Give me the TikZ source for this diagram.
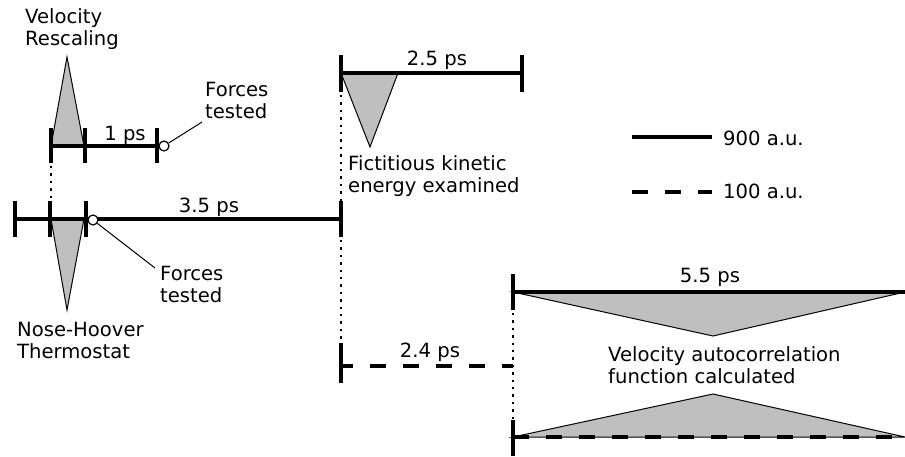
\documentclass[tikz,border=0pt]{standalone}
\usepackage{fontspec}
\setmainfont{DejaVu Sans}
\usetikzlibrary{calc}

\begin{document}
\begin{tikzpicture}[x=1pt, y=-1pt,
    every node/.style={font=\fontsize{19.6}{22}\selectfont, inner sep=0pt},
    tline/.style={line width=3.6pt},
    dline/.style={line width=3.6pt, dash pattern=on 16pt off 17pt},
    tick/.style={line width=3.4pt},
    dots/.style={line width=2.6pt, dash pattern=on 2.4pt off 5pt},
    wedge/.style={fill=gray!50, draw=black, line width=1pt},
    lbl/.style={align=left, anchor=north west},
    probe/.style={circle, draw, line width=1.2pt, minimum size=10pt, fill=white}]
    \useasboundingbox (0,0) rectangle (905,456);
    % velocity rescaling run
    \coordinate (A1) at (51,146);
    \coordinate (A2) at (85,146);
    \coordinate (A3) at (157,146);
    \coordinate (Atop) at (67,57);
    % main run
    \coordinate (B0) at (15,219);
    \coordinate (B1) at (51,219);
    \coordinate (B2) at (85,219);
    \coordinate (B3) at (341,219);
    \coordinate (Bbot) at (67,310);
    % 2.5 ps run
    \coordinate (C1) at (341,73);
    \coordinate (C2) at (522,73);
    \coordinate (Cbot) at (370,147);
    \coordinate (Cend) at (398,73);
    % 2.4 ps run
    \coordinate (D1) at (341,366);
    \coordinate (D2) at (513,366);
    % 5.5 ps runs
    \coordinate (E1) at (513,292);
    \coordinate (E2) at (905,292);
    \coordinate (Emid) at (713,336);
    \coordinate (F1) at (513,437);
    \coordinate (F2) at (905,437);
    \coordinate (Fmid) at (713,394);
    % legend
    \coordinate (L1) at (632,137);
    \coordinate (L2) at (712,137);
    \coordinate (L3) at (632,192);
    \coordinate (L4) at (712,192);

    \filldraw[wedge] (A1) -- (Atop) -- (84,146) -- cycle;
    \filldraw[wedge] (B1) -- (Bbot) -- (84,219) -- cycle;
    \filldraw[wedge] (C1) -- (Cbot) -- (Cend) -- cycle;
    \filldraw[wedge] (E1) -- (Emid) -- (E2) -- cycle;
    \filldraw[wedge] (F1) -- (Fmid) -- (F2) -- cycle;

    \draw[dots] (51,166) -- (51,201);
    \draw[dots] (341,95) -- (341,201);
    \draw[dots] (341,240) -- (341,342);
    \draw[dots] (513,313) -- (513,420);

    \draw[tline] (A1) -- (A3);
    \draw[tline] (B0) -- (B3);
    \draw[tline] (C1) -- (C2);
    \draw[tline] (E1) -- (E2);
    \draw[dline, dash phase=4pt] (D1) -- (D2);
    \draw[dline] (F1) -- (F2);

    \foreach \x in {51,85,157} \draw[tick] (\x,128) -- (\x,163);
    \foreach \x in {15,50,86,341} \draw[tick] (\x,201) -- (\x,237);
    \foreach \x in {341,522} \draw[tick] (\x,55) -- (\x,92);
    \draw[tick] (341,343) -- (341,383);
    \draw[tick] (513,274) -- (513,310);
    \draw[tick] (513,420) -- (513,456);

    \node[probe] (pA) at (164,146) {};
    \node[probe] (pB) at (93,220) {};
    \coordinate (qA) at (202,122);
    \coordinate (qB) at (155,268);
    \draw[line width=1pt] (pA) -- (qA);
    \draw[line width=1pt] (pB) -- (qB);

    \node[lbl] (vr) at (25,8) {Velocity\\Rescaling};
    \node[lbl] (ftA) at (205,82) {Forces\\tested};
    \node[lbl] (ftB) at (160,266) {Forces\\tested};
    \node[lbl] (nh) at (17,322) {Nose-Hoover\\Thermostat};
    \node[lbl] (fk) at (348,155) {Fictitious kinetic\\energy examined};
    \node[lbl] (vac) at (608,346) {Velocity autocorrelation\\function calculated};
    \node[anchor=base] (t1) at (125,140) {1 ps};
    \node[anchor=base] (t35) at (209,212) {3.5 ps};
    \node[anchor=base] (t25) at (437,65) {2.5 ps};
    \node[anchor=base] (t24) at (430,357) {2.4 ps};
    \node[anchor=base] (t55) at (710,282) {5.5 ps};

    \draw[tline] (L1) -- (L2);
    \draw[dline] (L3) -- (L4);
    \node[anchor=base west] (k900) at (723,145) {900 a.u.};
    \node[anchor=base west] (k100) at (723,198) {100 a.u.};
\end{tikzpicture}
\end{document}
